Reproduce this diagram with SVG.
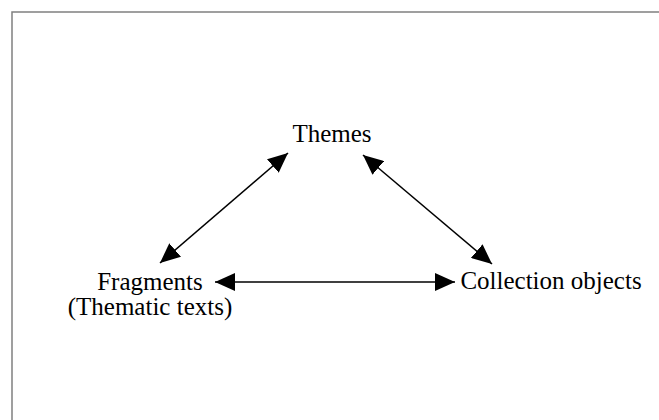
<svg xmlns="http://www.w3.org/2000/svg" width="659" height="420" viewBox="0 0 659 420">
<style>
.lbl{font-family:"Liberation Serif","Times New Roman",serif;font-size:25px;fill:#000;text-anchor:middle}
.conn{stroke:#000;stroke-width:1.5;fill:none;marker-start:url(#ah);marker-end:url(#ah)}
</style>
<defs>
<marker id="ah" markerUnits="userSpaceOnUse" markerWidth="20" markerHeight="18" refX="20" refY="9" orient="auto-start-reverse" viewBox="0 0 20 18">
<path d="M0,0 L20,9 L0,18 z" fill="#000"/>
</marker>
</defs>
<rect x="0" y="0" width="659" height="420" fill="#fff"/>
<path d="M12,420 L12,12 L659,12" fill="none" stroke="#808080" stroke-width="1.5"/>
<g id="connectors">
<line class="conn" x1="160" y1="263" x2="288" y2="153"/>
<line class="conn" x1="363" y1="155" x2="492" y2="264"/>
<line class="conn" x1="215" y1="282" x2="455" y2="282"/>
</g>
<g id="themes"><text class="lbl" x="332" y="142">Themes</text></g>
<g id="fragments"><text class="lbl" x="150" y="290">Fragments</text><text class="lbl" x="150" y="315">(Thematic texts)</text></g>
<g id="collection"><text class="lbl" x="551" y="289">Collection objects</text></g>
</svg>
